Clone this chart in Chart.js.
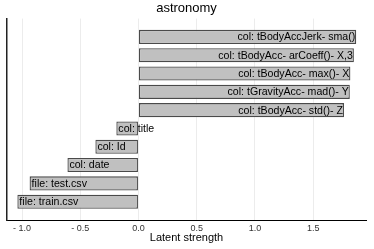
<!DOCTYPE html>
<html>
<head>
<meta charset="utf-8">
<script src="https://cdn.jsdelivr.net/npm/chart.js@4"></script>
<style>
  body { margin: 0; background: #fff; }
  #wrap { width: 374px; height: 249px; }
</style>
</head>
<body>
<div id="wrap"><canvas id="myChart"></canvas></div>
<script>
const categories = [
  'col: tBodyAccJerk- sma()',
  'col: tBodyAcc- arCoeff()- X,3',
  'col: tBodyAcc- max()- X',
  'col: tGravityAcc- mad()- Y',
  'col: tBodyAcc- std()- Z',
  'col: title',
  'col: Id',
  'col: date',
  'file: test.csv',
  'file: train.csv'
]
const strengths = [1.87, 1.85, 1.82, 1.815, 1.765, -0.19, -0.37, -0.61, -0.935, -1.04]
const tickValues = [-1.0, -0.5, 0.0, 0.5, 1.0, 1.5]
const tickLabels = ['- 1.0', '- 0.5', '0.0', '0.5', '1.0', '1.5']

const fontName = '"Liberation Sans", Arial, sans-serif'

// blank slot above and below so the bars sit away from the axis ends
var labels = [''].concat(categories, [''])
var values = [null].concat(strengths, [null])

const barText = {
  id: 'barText',
  afterDatasetsDraw(chart) {
    var ctx = chart.ctx
    var meta = chart.getDatasetMeta(0)
    ctx.save()
    ctx.font = '10.6px ' + fontName
    ctx.fillStyle = '#000'
    ctx.textBaseline = 'middle'
    meta.data.forEach((bar, i) => {
      var v = values[i]
      if (v === null) return
      if (v >= 0) {
        ctx.textAlign = 'right'
        ctx.fillText(labels[i], bar.x - 1, bar.y + 0.5)
      } else {
        ctx.textAlign = 'left'
        ctx.fillText(labels[i], bar.x + 2, bar.y + 0.5)
      }
    })
    ctx.restore()
  }
}

var ctx = document.getElementById('myChart')
var chart = new Chart(ctx, {
  type: 'bar',
  data: {
    labels: labels,
    datasets: [{
      data: values,
      backgroundColor: '#c0c0c0',
      borderColor: '#4a4a4a',
      borderWidth: 1.3,
      borderSkipped: false,
      barPercentage: 0.77,
      categoryPercentage: 1
    }]
  },
  options: {
    indexAxis: 'y',
    responsive: true,
    maintainAspectRatio: false,
    animation: false,
    layout: { padding: { left: 7, right: 8, top: 0, bottom: 0 } },
    plugins: {
      legend: { display: false },
      tooltip: { enabled: false },
      title: {
        display: true,
        text: 'astronomy',
        color: '#000',
        font: { family: fontName, size: 13, weight: 'normal' },
        padding: { top: 1, bottom: 2 }
      }
    },
    scales: {
      x: {
        type: 'linear',
        min: -1.129,
        max: 1.954,
        afterBuildTicks: (scale) => {
          scale.ticks = tickValues.map(v => ({ value: v }))
        },
        afterFit: (scale) => { scale.height = 29 },
        ticks: {
          color: '#333',
          font: { family: fontName, size: 9 },
          padding: 3,
          maxRotation: 0,
          callback: (v) => tickLabels[tickValues.indexOf(v)]
        },
        grid: { color: '#ececec', drawTicks: false },
        border: { display: true, color: '#000', width: 1 },
        title: {
          display: true,
          text: 'Latent strength',
          color: '#000',
          font: { family: fontName, size: 11 },
          padding: { top: 0, bottom: 4 }
        }
      },
      y: {
        type: 'category',
        offset: false,
        ticks: { display: false },
        grid: { display: false, drawTicks: false },
        border: { display: true, color: '#222', width: 1.5 },
        afterFit: (scale) => { scale.width = 0 }
      }
    }
  },
  plugins: [barText]
})
</script>
</body>
</html>
